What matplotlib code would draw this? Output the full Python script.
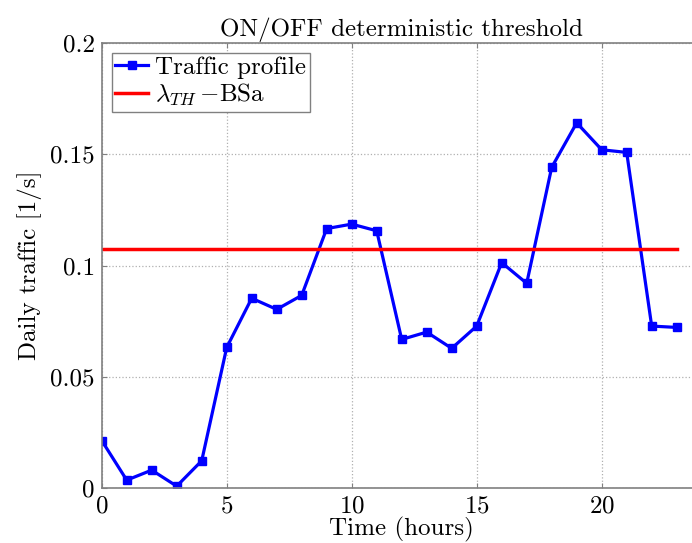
import matplotlib
matplotlib.use('Agg')
import matplotlib.pyplot as plt

plt.rcParams['font.family'] = 'serif'
plt.rcParams['font.serif'] = ['cmr10']
plt.rcParams['mathtext.fontset'] = 'cm'
plt.rcParams['axes.formatter.use_mathtext'] = True

# hourly traffic profile
hours = list(range(24))
traffic = [0.0214, 0.0036, 0.0081, 0.0009, 0.0123, 0.0632, 0.0853, 0.0803,
           0.0866, 0.1166, 0.1186, 0.1156, 0.0668, 0.0701, 0.0628, 0.0728,
           0.1013, 0.0920, 0.1441, 0.1641, 0.1520, 0.1508, 0.0728, 0.0722]
threshold = 0.1074
xticks = [0, 5, 10, 15, 20]
yticks = [0, 0.05, 0.1, 0.15, 0.2]
ytick_labels = ['0', '0.05', '0.1', '0.15', '0.2']

fig = plt.figure(figsize=(6.92, 5.43), dpi=100)
ax = fig.add_axes([0.147, 0.101, 0.867, 0.820])

ax.plot(hours, traffic, color='blue', lw=2.3, marker='s', ms=6,
        label='Traffic profile')
ax.plot([hours[0], hours[-1]], [threshold, threshold], color='red', lw=2.5,
        label=r'$\lambda_{TH}\,{-}$BSa')

ax.set_xlim(0, 24)
ax.set_ylim(0, 0.2)
ax.set_xticks(xticks)
ax.set_yticks(yticks)
ax.set_yticklabels(ytick_labels)
ax.tick_params(labelsize=18, direction='in', color='gray', top=True, right=True,
               pad=5)
ax.grid(True, linestyle=':', color='#b0b0b0', lw=0.9)
for s in ax.spines.values():
    s.set_color('gray')
    s.set_linewidth(1.2)

ax.set_title('ON/OFF deterministic threshold', fontsize=18, pad=5)
ax.set_xlabel('Time (hours)', fontsize=18, labelpad=0)
ax.set_ylabel('Daily traffic [1/s]', fontsize=18, labelpad=6)

leg = ax.legend(loc='upper left', fontsize=18, fancybox=False, framealpha=1,
                edgecolor='gray', handlelength=1.3, handletextpad=0.3,
                borderpad=0.15, labelspacing=0.1, borderaxespad=0.4)

fig.savefig('out.png', dpi=100)
